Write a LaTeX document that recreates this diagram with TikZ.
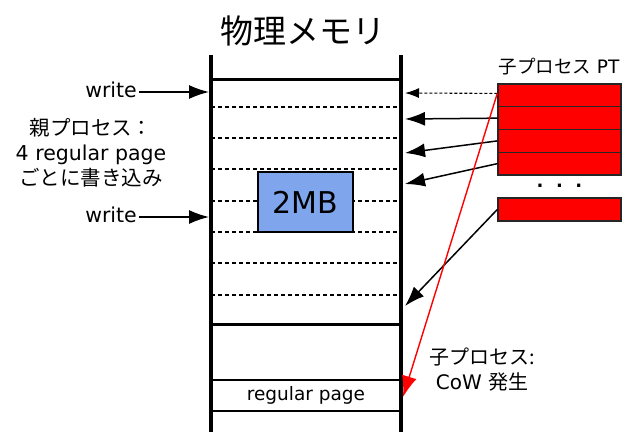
\documentclass[tikz,border=0pt]{standalone}
\usepackage{fontspec}
\setmainfont{DejaVu Sans}
\newfontfamily\jpfont{Noto Sans CJK JP}
\usetikzlibrary{arrows.meta}

\definecolor{mbblue}{RGB}{127,166,236}

\begin{document}
\begin{tikzpicture}[x=1pt, y=-1pt,
        lbl/.style={font=\fontsize{18.5}{25}\selectfont, inner sep=0pt, align=center},
        biglbl/.style={lbl, font=\fontsize{20.5}{25}\selectfont},
        ptrow/.style={draw=black!85, line width=1.4pt, fill=red, minimum width=123pt, minimum height=22.75pt, inner sep=0pt},
        ptr/.style={-{Latex[length=20pt, width=14pt]}, line width=1.5pt},
        wall/.style={line width=3.2pt}]
    \useasboundingbox (0,0) rectangle (632,432);

    % Memory column
    \draw[wall] (211,55) -- (211,432);
    \draw[wall] (401,55) -- (401,432);
    \draw[line width=3pt] (211,79) -- (401,79);
    \draw[line width=3pt] (211,324) -- (401,324);
    \foreach \k in {0,...,6}
        \draw[line width=1.9pt, dash pattern=on 4pt off 3pt] (211,106.7+31.33*\k) -- (401,106.7+31.33*\k);
    \draw[line width=1.8pt] (211,380) -- (401,380);
    \draw[line width=1.8pt] (211,411) -- (401,411);

    \node[font=\jpfont\fontsize{33}{40}\selectfont] (title) at (303,31) {物理メモリ};
    \node[draw, line width=1.8pt, fill=mbblue, minimum width=95pt, minimum height=60pt,
          font=\fontsize{30}{36}\selectfont] (huge) at (305.5,202) {2MB};
    \node[lbl] (page) at (306,395) {regular page};

    % Parent writes
    \node[biglbl, anchor=east] (w1) at (137,90) {write};
    \node[biglbl, anchor=east] (w2) at (137,215) {write};
    \draw[ptr] (w1.east) ++(2,2) -- (209,92);
    \draw[ptr] (w2.east) ++(2,2) -- (209,217);
    \node[biglbl] (parent) at (91,153) {{\jpfont 親プロセス：}\\4 regular page\\{\jpfont ごとに書き込み}};

    % Child page table
    \node[lbl] (ptname) at (559,67) {{\jpfont 子プロセス} PT};
    \foreach \i in {1,...,4}
        \node[ptrow] (pt\i) at (559.5,95.4+22.75*\i-22.75) {};
    \node[font=\bfseries\fontsize{18}{20}\selectfont] (dots) at (559.5,186) {.\ \ .\ \ .};
    \node[ptrow] (pt5) at (559.5,209.5) {};

    \coordinate (m1) at (405,93);
    \coordinate (m2) at (405,119);
    \coordinate (m3) at (405,153);
    \coordinate (m4) at (405,184);
    \coordinate (m5) at (405,306);
    \coordinate (cow) at (403,397);

    \draw[-{Latex[length=14pt, width=10pt]}, line width=1.1pt, dash pattern=on 3pt off 2pt] ([yshift=2pt]pt1.west) -- (m1);
    \draw[ptr] (pt2.west) -- (m2);
    \draw[ptr] (pt3.west) -- (m3);
    \draw[ptr] (pt4.west) -- (m4);
    \draw[ptr] (pt5.west) -- (m5);
    \draw[-{Latex[length=21pt, width=15pt]}, line width=1.4pt, red] ([yshift=2pt]pt1.west) -- (cow);

    \node[biglbl, font=\fontsize{20}{25}\selectfont] (childcow) at (482,370) {{\jpfont 子プロセス:}\\CoW {\jpfont 発生}};
\end{tikzpicture}
\end{document}
